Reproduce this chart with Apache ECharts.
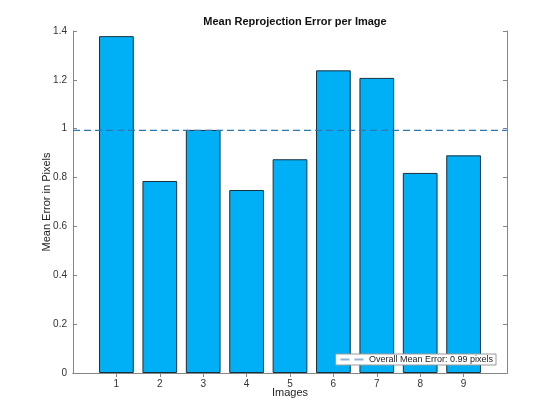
<!DOCTYPE html>
<html lang="en">
    <head>
        <meta charset="UTF-8" />
        <title>Mean Reprojection Error per Image</title>
        <script src="https://cdn.jsdelivr.net/npm/echarts@6/dist/echarts.min.js"></script>
        <style>
            html, body { margin: 0; padding: 0; background: #fff; }
            #chart { width: 560px; height: 420px; }
        </style>
    </head>

    <body>
        <div id="chart"></div>

        <script>
            // x positions 0..10, bars sit on 1..9
            var positions = ['0', '1', '2', '3', '4', '5', '6', '7', '8', '9', '10'];
            var images = ['1', '2', '3', '4', '5', '6', '7', '8', '9'];
            var errors = [1.379, 0.786, 0.995, 0.749, 0.875, 1.239, 1.208, 0.819, 0.891];
            var meanError = 0.9934;
            var yTicks = [0, 0.2, 0.4, 0.6, 0.8, 1, 1.2, 1.4];
            var meanLabel = 'Overall Mean Error: 0.99 pixels';

            var barData = ['-'].concat(errors).concat(['-']);
            var meanData = positions.map(function () {
                return meanError;
            });

            var font = 'Liberation Sans, Arial, sans-serif';
            var axisGray = '#858585';
            var meanColor = '#2b79b3';

            var element = document.getElementById('chart');
            var myChart = echarts.init(element);

            var tickFilter = function (index) {
                return index >= 1 && index <= 9;
            };

            var option = {
                animation: false,
                backgroundColor: '#fff',
                title: {
                    text: 'Mean Reprojection Error per Image',
                    left: 290,
                    textAlign: 'center',
                    top: 11,
                    textStyle: {
                        fontFamily: font,
                        fontSize: 11,
                        fontWeight: 'bold',
                        color: '#111',
                    },
                },
                legend: {
                    right: 64,
                    bottom: 55,
                    data: [
                        {
                            name: meanLabel,
                            // two dashes like the matlab legend
                            icon: 'path://M0,0h9v2h-9zM14,0h9v2h-9z',
                        },
                    ],
                    backgroundColor: '#fff',
                    borderColor: '#999',
                    borderWidth: 1,
                    borderRadius: 0,
                    padding: [1, 3, 1, 5],
                    itemWidth: 24,
                    itemHeight: 2,
                    itemGap: 4,
                    itemStyle: { color: '#8fb4d4' },
                    textStyle: {
                        fontFamily: font,
                        fontSize: 9,
                        color: '#222',
                    },
                },
                grid: {
                    left: 73,
                    right: 53,
                    top: 31,
                    bottom: 47,
                    containLabel: false,
                },
                xAxis: [
                    {
                        type: 'category',
                        data: positions,
                        boundaryGap: false,
                        name: 'Images',
                        nameLocation: 'middle',
                        nameGap: 14,
                        nameMoveOverlap: false,
                        nameTextStyle: { fontFamily: font, fontSize: 11, color: '#222' },
                        axisLine: { lineStyle: { color: axisGray, width: 1 } },
                        axisTick: {
                            inside: true,
                            length: 4,
                            interval: tickFilter,
                            lineStyle: { color: axisGray },
                        },
                        axisLabel: {
                            interval: tickFilter,
                            margin: 6,
                            fontFamily: font,
                            fontSize: 10,
                            color: '#333',
                        },
                        splitLine: { show: false },
                    },
                    {
                        type: 'category',
                        data: positions,
                        boundaryGap: false,
                        position: 'top',
                        axisLine: { lineStyle: { color: axisGray, width: 1 } },
                        axisTick: {
                            inside: true,
                            length: 4,
                            interval: tickFilter,
                            lineStyle: { color: axisGray },
                        },
                        axisLabel: { show: false },
                        splitLine: { show: false },
                    },
                ],
                yAxis: [
                    {
                        type: 'value',
                        min: yTicks[0],
                        max: yTicks[yTicks.length - 1],
                        interval: 0.2,
                        name: 'Mean Error in Pixels',
                        nameLocation: 'middle',
                        nameGap: 21,
                        nameMoveOverlap: false,
                        nameTextStyle: { fontFamily: font, fontSize: 11, color: '#222' },
                        axisLine: { show: true, lineStyle: { color: axisGray, width: 1 } },
                        axisTick: { show: true, inside: true, length: 4, lineStyle: { color: axisGray } },
                        axisLabel: {
                            margin: 6,
                            fontFamily: font,
                            fontSize: 10,
                            color: '#333',
                            formatter: function (v) {
                                return String(Math.round(v * 10) / 10);
                            },
                        },
                        splitLine: { show: false },
                    },
                    {
                        type: 'value',
                        min: yTicks[0],
                        max: yTicks[yTicks.length - 1],
                        interval: 0.2,
                        position: 'right',
                        axisLine: { show: true, lineStyle: { color: axisGray, width: 1 } },
                        axisTick: { show: true, inside: true, length: 4, lineStyle: { color: axisGray } },
                        axisLabel: { show: false },
                        splitLine: { show: false },
                    },
                ],
                series: [
                    {
                        name: 'Errors',
                        type: 'bar',
                        data: barData,
                        barWidth: '80%',
                        itemStyle: {
                            color: '#00b0f6',
                            borderColor: '#16303f',
                            borderWidth: 1,
                        },
                    },
                    {
                        name: meanLabel,
                        type: 'line',
                        data: meanData,
                        showSymbol: false,
                        symbol: 'none',
                        lineStyle: {
                            color: meanColor,
                            width: 1.3,
                            type: [7, 4],
                        },
                        itemStyle: { color: meanColor },
                        z: 5,
                    },
                ],
            };
            myChart.setOption(option, true);
        </script>
    </body>
</html>
